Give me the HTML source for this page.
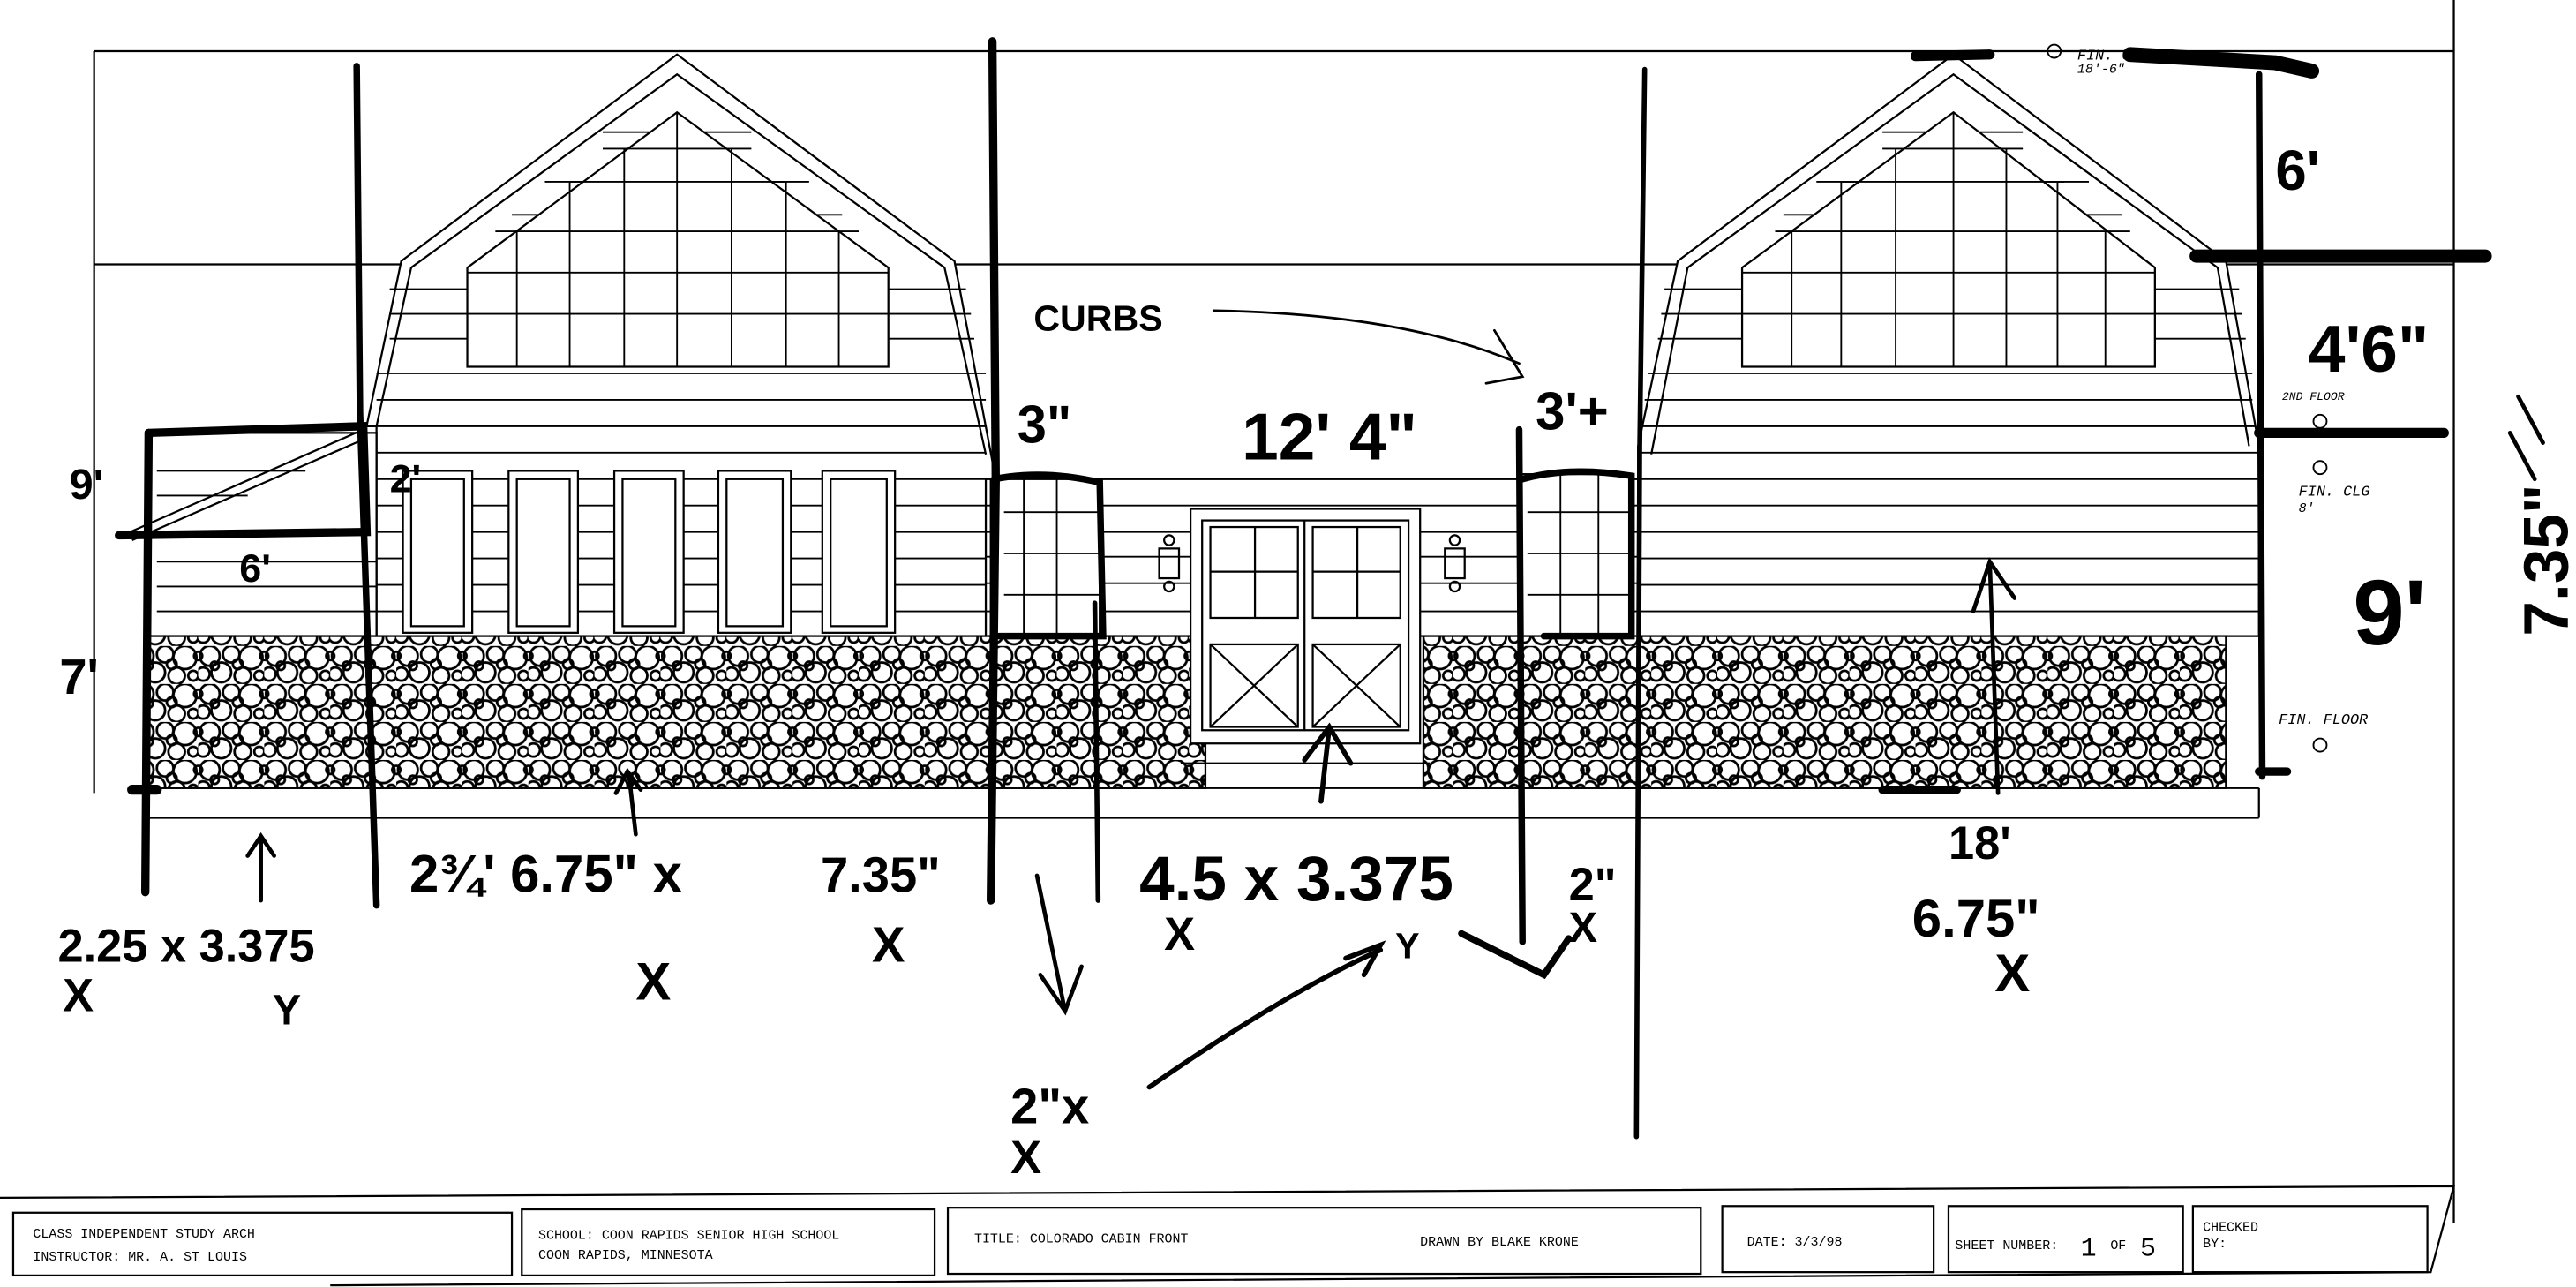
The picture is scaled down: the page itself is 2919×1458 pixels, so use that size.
<!DOCTYPE html>
<html><head><meta charset="utf-8"><style>
html,body{margin:0;padding:0;background:#fff}
svg{display:block}
.h{font-family:"Liberation Sans Narrow","Liberation Sans",sans-serif;font-weight:bold;fill:#000}
.s{font-family:"Liberation Mono",monospace;fill:#000;font-size:8px}
</style></head><body>
<svg width="2919" height="1458" viewBox="0 0 1560 779" preserveAspectRatio="none" xmlns="http://www.w3.org/2000/svg">
<defs>
<pattern id="st" width="40" height="23" patternUnits="userSpaceOnUse">
<rect width="40" height="23" fill="#fff"/>
<g fill="none" stroke="#000" stroke-width="1.5">
<circle cx="7" cy="6" r="6"/><circle cx="20" cy="5" r="5"/><circle cx="32" cy="7" r="7"/>
<circle cx="3" cy="17" r="4"/><circle cx="14" cy="16" r="6"/><circle cx="27" cy="18" r="5"/><circle cx="37" cy="18" r="3"/>
<circle cx="24" cy="11" r="3"/><circle cx="10" cy="12" r="2.5"/><circle cx="40" cy="6" r="2.5"/><circle cx="0" cy="6" r="2.5"/>
</g>
</pattern>
</defs>
<rect width="1560" height="779" fill="#fff"/>
<g stroke="#000" fill="none" stroke-width="1.2">
<line x1="57" y1="31" x2="1486" y2="31"/>
<line x1="57" y1="31" x2="57" y2="480"/>
<line x1="57" y1="160" x2="1486" y2="160"/>
<line x1="1486" y1="0" x2="1486" y2="740"/>
<polygon points="410,33 243,158 222,258 228,258 228,385 597,385 597,290 603,290 578,158" fill="#fff"/>
<polyline points="228,258 249,162 410,45 572,162 597,275"/>
<g stroke-width="1">
<line x1="228" y1="226" x2="597" y2="226"/><line x1="228" y1="242" x2="597" y2="242"/><line x1="228" y1="258" x2="597" y2="258"/>
<line x1="228" y1="274" x2="597" y2="274"/><line x1="228" y1="290" x2="597" y2="290"/><line x1="228" y1="306" x2="597" y2="306"/>
<line x1="228" y1="322" x2="597" y2="322"/><line x1="228" y1="338" x2="597" y2="338"/><line x1="228" y1="354" x2="597" y2="354"/><line x1="228" y1="370" x2="597" y2="370"/>
<line x1="236" y1="175" x2="585" y2="175"/><line x1="236" y1="190" x2="588" y2="190"/><line x1="236" y1="205" x2="590" y2="205"/>
<line x1="330" y1="110" x2="490" y2="110"/><line x1="310" y1="130" x2="510" y2="130"/><line x1="365" y1="80" x2="455" y2="80"/>
</g>
<polygon points="283,222 283,162 410,68 538,162 538,222" fill="#fff"/>
<g stroke-width="1">
<line x1="283" y1="222" x2="538" y2="222"/><line x1="283" y1="190" x2="538" y2="190"/><line x1="283" y1="165" x2="538" y2="165"/>
<line x1="300" y1="140" x2="520" y2="140"/><line x1="345" y1="110" x2="475" y2="110"/><line x1="365" y1="90" x2="455" y2="90"/>
<line x1="313" y1="140" x2="313" y2="222"/><line x1="345" y1="110" x2="345" y2="222"/><line x1="378" y1="90" x2="378" y2="222"/><line x1="410" y1="68" x2="410" y2="222"/>
<line x1="443" y1="90" x2="443" y2="222"/><line x1="476" y1="110" x2="476" y2="222"/><line x1="508" y1="140" x2="508" y2="222"/>
</g>
<g fill="#fff">
<rect x="244" y="285" width="42" height="98"/><rect x="249" y="290" width="32" height="89"/>
<rect x="308" y="285" width="42" height="98"/><rect x="313" y="290" width="32" height="89"/>
<rect x="372" y="285" width="42" height="98"/><rect x="377" y="290" width="32" height="89"/>
<rect x="435" y="285" width="44" height="98"/><rect x="440" y="290" width="34" height="89"/>
<rect x="498" y="285" width="44" height="98"/><rect x="503" y="290" width="34" height="89"/>
</g>
<rect x="90" y="262" width="138" height="123" fill="#fff"/>
<g stroke-width="1"><line x1="95" y1="340" x2="228" y2="340"/><line x1="95" y1="355" x2="228" y2="355"/><line x1="95" y1="370" x2="228" y2="370"/><line x1="95" y1="300" x2="150" y2="300"/><line x1="95" y1="285" x2="185" y2="285"/></g>
<line x1="72" y1="325" x2="220" y2="260"/><line x1="80" y1="327" x2="220" y2="266"/>
<rect x="597" y="290" width="395" height="95" fill="#fff"/>
<g stroke-width="1"><line x1="597" y1="306" x2="992" y2="306"/><line x1="597" y1="322" x2="992" y2="322"/><line x1="597" y1="337" x2="992" y2="337"/><line x1="597" y1="353" x2="992" y2="353"/><line x1="597" y1="370" x2="992" y2="370"/></g>
<rect x="600" y="290" width="66" height="95" fill="#fff"/>
<g stroke-width="1"><line x1="620" y1="290" x2="620" y2="385"/><line x1="640" y1="290" x2="640" y2="385"/><line x1="608" y1="310" x2="666" y2="310"/><line x1="608" y1="335" x2="666" y2="335"/><line x1="608" y1="360" x2="666" y2="360"/></g>
<rect x="920" y="287" width="68" height="98" fill="#fff"/>
<g stroke-width="1"><line x1="945" y1="287" x2="945" y2="385"/><line x1="968" y1="287" x2="968" y2="385"/><line x1="925" y1="310" x2="988" y2="310"/><line x1="925" y1="335" x2="988" y2="335"/><line x1="925" y1="360" x2="988" y2="360"/></g>
<rect x="702" y="332" width="12" height="18"/><circle cx="708" cy="327" r="3"/><circle cx="708" cy="355" r="3"/>
<rect x="875" y="332" width="12" height="18"/><circle cx="881" cy="327" r="3"/><circle cx="881" cy="355" r="3"/>
<polygon points="1183,33 1016,158 992,270 992,385 1368,385 1368,270 1348,158" fill="#fff"/>
<polyline points="1000,275 1022,162 1183,45 1343,162 1362,270"/>
<g stroke-width="1">
<line x1="998" y1="226" x2="1364" y2="226"/><line x1="996" y1="242" x2="1364" y2="242"/><line x1="994" y1="258" x2="1366" y2="258"/>
<line x1="992" y1="274" x2="1368" y2="274"/><line x1="992" y1="290" x2="1368" y2="290"/><line x1="992" y1="306" x2="1368" y2="306"/>
<line x1="992" y1="322" x2="1368" y2="322"/><line x1="992" y1="338" x2="1368" y2="338"/><line x1="992" y1="354" x2="1368" y2="354"/><line x1="992" y1="370" x2="1368" y2="370"/>
<line x1="1008" y1="175" x2="1356" y2="175"/><line x1="1006" y1="190" x2="1358" y2="190"/><line x1="1004" y1="205" x2="1360" y2="205"/>
<line x1="1100" y1="110" x2="1265" y2="110"/><line x1="1080" y1="130" x2="1285" y2="130"/><line x1="1140" y1="80" x2="1225" y2="80"/>
</g>
<polygon points="1055,222 1055,162 1183,68 1305,162 1305,222" fill="#fff"/>
<g stroke-width="1">
<line x1="1055" y1="190" x2="1305" y2="190"/><line x1="1055" y1="165" x2="1305" y2="165"/>
<line x1="1075" y1="140" x2="1290" y2="140"/><line x1="1115" y1="110" x2="1250" y2="110"/><line x1="1140" y1="90" x2="1225" y2="90"/>
<line x1="1085" y1="140" x2="1085" y2="222"/><line x1="1115" y1="110" x2="1115" y2="222"/><line x1="1148" y1="90" x2="1148" y2="222"/><line x1="1183" y1="68" x2="1183" y2="222"/>
<line x1="1215" y1="90" x2="1215" y2="222"/><line x1="1246" y1="110" x2="1246" y2="222"/><line x1="1275" y1="140" x2="1275" y2="222"/>
</g>
<rect x="90" y="385" width="640" height="92" fill="url(#st)"/>
<rect x="862" y="385" width="486" height="92" fill="url(#st)"/>
<rect x="721" y="308" width="139" height="142" fill="#fff"/>
<rect x="728" y="315" width="125" height="127"/>
<line x1="790" y1="315" x2="790" y2="442"/>
<rect x="733" y="319" width="53" height="55"/><rect x="795" y="319" width="53" height="55"/>
<line x1="760" y1="319" x2="760" y2="374"/><line x1="822" y1="319" x2="822" y2="374"/>
<line x1="733" y1="346" x2="786" y2="346"/><line x1="795" y1="346" x2="848" y2="346"/>
<rect x="733" y="390" width="53" height="50"/><rect x="795" y="390" width="53" height="50"/>
<line x1="733" y1="390" x2="786" y2="440"/><line x1="786" y1="390" x2="733" y2="440"/>
<line x1="795" y1="390" x2="848" y2="440"/><line x1="848" y1="390" x2="795" y2="440"/>
<line x1="715" y1="462" x2="866" y2="462"/>
<line x1="90" y1="477" x2="1368" y2="477"/>
<line x1="90" y1="495" x2="1368" y2="495"/>
<line x1="1368" y1="477" x2="1368" y2="495"/>
<polyline points="0,725 1486,718 1472,770 200,778"/>
<rect x="8" y="734" width="302" height="38"/>
<rect x="316" y="732" width="250" height="40"/>
<rect x="574" y="731" width="456" height="40"/>
<rect x="1043" y="730" width="128" height="40"/>
<rect x="1180" y="730" width="142" height="40"/>
<rect x="1328" y="730" width="142" height="40"/>
</g>
<g stroke="#000" fill="none" stroke-linecap="round">
<path d="M216 40 L218 250 L228 548" stroke-width="4"/>
<path d="M601 25 L603 290 L600 545" stroke-width="5"/>
<path d="M996 42 L993 270 L991 688" stroke-width="3"/>
<path d="M663 365 L665 545" stroke-width="3"/>
<path d="M920 260 L922 570" stroke-width="4"/>
<path d="M1368 45 L1370 470" stroke-width="4"/>
<path d="M90 262 L88 540" stroke-width="5"/>
<path d="M90 262 L220 258 L222 322 L72 324" stroke-width="5"/>
<path d="M602 290 Q632 284 666 292 L668 385 L605 385" stroke-width="4"/>
<path d="M922 290 Q950 282 988 288 L988 385 L935 385" stroke-width="4"/>
<path d="M1160 34 L1205 33" stroke-width="6"/>
<path d="M1290 33 L1378 38 L1400 43" stroke-width="9"/>
<path d="M1330 155 L1505 155" stroke-width="8"/>
<path d="M1368 262 L1480 262" stroke-width="6"/>
<path d="M1140 478 L1185 478" stroke-width="5"/>
<path d="M1368 467 L1385 467" stroke-width="5"/>
<path d="M80 478 L95 478" stroke-width="6"/>
<path d="M158 545 L158 508 M150 518 L158 506 L166 518" stroke-width="2.5"/>
<path d="M385 505 L381 470 M373 480 L380 467 L388 478" stroke-width="2.5"/>
<path d="M800 485 L805 440 M790 460 L805 440 L818 462" stroke-width="3"/>
<path d="M1210 480 L1205 340 M1195 370 L1205 340 L1220 362" stroke-width="2.5"/>
<path d="M628 530 L645 612 M630 590 L645 612 L655 585" stroke-width="2.5"/>
<path d="M696 658 Q780 600 836 575 M815 580 L836 572 L826 590" stroke-width="3"/>
<path d="M885 565 L935 590 L950 568" stroke-width="4"/>
<path d="M735 188 Q850 190 920 220 M905 200 L922 228 L900 232" stroke-width="1.5"/>
<path d="M1525 240 L1540 268 M1520 262 L1535 290" stroke-width="2.5"/>
</g>
<g class="h">
<text x="42" y="302" font-size="26">9'</text>
<text x="236" y="298" font-size="24">2'</text>
<text x="145" y="352" font-size="24">6'</text>
<text x="36" y="420" font-size="30">7'</text>
<text x="616" y="268" font-size="32">3"</text>
<text x="626" y="200" font-size="22">CURBS</text>
<text x="752" y="278" font-size="40">12' 4"</text>
<text x="930" y="260" font-size="32">3'+</text>
<text x="1378" y="115" font-size="34">6'</text>
<text x="1398" y="225" font-size="40">4'6"</text>
<text x="1425" y="390" font-size="56">9'</text>
<text transform="translate(1555,385) rotate(-90)" font-size="38">7.35"</text>
<text x="248" y="540" font-size="32">2¾' 6.75" x</text>
<text x="497" y="540" font-size="30">7.35"</text>
<text x="690" y="545" font-size="38">4.5 x 3.375</text>
<text x="950" y="545" font-size="28">2"</text>
<text x="1180" y="520" font-size="28">18'</text>
<text x="1158" y="567" font-size="32">6.75"</text>
<text x="35" y="582" font-size="28">2.25 x 3.375</text>
<text x="38" y="612" font-size="28">X</text>
<text x="165" y="620" font-size="26">Y</text>
<text x="385" y="605" font-size="32">X</text>
<text x="528" y="582" font-size="30">X</text>
<text x="705" y="575" font-size="28">X</text>
<text x="845" y="580" font-size="22">Y</text>
<text x="950" y="570" font-size="26">X</text>
<text x="1208" y="600" font-size="32">X</text>
<text x="612" y="680" font-size="30">2"x</text>
<text x="612" y="710" font-size="28">X</text>
</g>
<g class="s" font-style="italic">
<text x="1258" y="36" font-size="9">FIN. CLG</text>
<text x="1258" y="44" font-size="8">18'-6"</text>
<text x="1382" y="242" font-size="7">2ND FLOOR</text>
<text x="1392" y="300" font-size="9">FIN. CLG</text>
<text x="1392" y="310" font-size="8">8'</text>
<text x="1380" y="438" font-size="9">FIN. FLOOR</text>
</g>
<g stroke="#000" fill="none" stroke-width="1"><circle cx="1244" cy="31" r="4"/><circle cx="1405" cy="255" r="4"/><circle cx="1405" cy="283" r="4"/><circle cx="1405" cy="451" r="4"/></g>
<g class="s">
<text x="20" y="749">CLASS   INDEPENDENT STUDY ARCH</text>
<text x="20" y="763">INSTRUCTOR: MR. A. ST LOUIS</text>
<text x="326" y="750">SCHOOL: COON RAPIDS SENIOR HIGH SCHOOL</text>
<text x="326" y="762">COON RAPIDS, MINNESOTA</text>
<text x="590" y="752">TITLE:  COLORADO CABIN FRONT</text>
<text x="860" y="754">DRAWN BY   BLAKE KRONE</text>
<text x="1058" y="754">DATE:   3/3/98</text>
<text x="1184" y="756">SHEET NUMBER: </text>
<text x="1260" y="760" font-size="16">1</text><text x="1278" y="756">OF</text><text x="1296" y="760" font-size="16">5</text>
<text x="1334" y="745">CHECKED</text>
<text x="1334" y="755">BY:</text>
</g>
</svg>
</body></html>
